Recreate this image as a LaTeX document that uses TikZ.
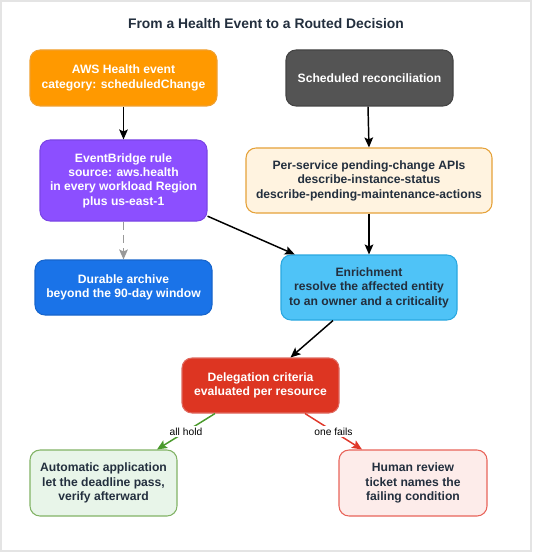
\documentclass[tikz,border=0pt]{standalone}
\usepackage{fontspec}
\setmainfont{Liberation Sans}
\usetikzlibrary{arrows.meta,calc}
\definecolor{ink}{HTML}{232F3E}
\definecolor{cOrange}{HTML}{FF9900}
\definecolor{cOrangeB}{HTML}{F0A030}
\definecolor{cGrey}{HTML}{545454}
\definecolor{cGreyB}{HTML}{444444}
\definecolor{cPurple}{HTML}{8C4FFF}
\definecolor{cPurpleB}{HTML}{7B45E6}
\definecolor{cApi}{HTML}{FFF3E0}
\definecolor{cApiB}{HTML}{E5A23A}
\definecolor{cBlue}{HTML}{1A73E8}
\definecolor{cBlueB}{HTML}{1765CC}
\definecolor{cLBlue}{HTML}{4FC3F7}
\definecolor{cLBlueB}{HTML}{2AA8E0}
\definecolor{cRed}{HTML}{DD3522}
\definecolor{cRedB}{HTML}{E06A60}
\definecolor{cGreenF}{HTML}{E8F5E9}
\definecolor{cGreenB}{HTML}{82B366}
\definecolor{cGreenA}{HTML}{4A9A2C}
\definecolor{cPinkF}{HTML}{FDECEA}
\definecolor{cPinkB}{HTML}{E8645A}
\definecolor{cRedA}{HTML}{E0382A}
\definecolor{cFrame}{HTML}{E4E4E4}
\tikzset{
  box/.style={rectangle, rounded corners=7.5pt, line width=0.8pt, align=center,
    font=\fontsize{9.1}{10.8}\selectfont\bfseries, inner sep=0pt},
  whitebox/.style={box, text=white},
  darkbox/.style={box, text=ink},
  flow/.style={line width=1.1pt, draw=black, -{Stealth[length=7.5pt,width=6.5pt,inset=1.5pt]}},
  lbl/.style={font=\fontsize{7.7}{9}\selectfont, fill=white, inner sep=1pt, text=black}
}
\begin{document}
\begin{tikzpicture}[x=0.75pt,y=-0.75pt]
\useasboundingbox (0,0) rectangle (532,552);
\draw[cFrame, line width=1.5pt, fill=white] (1,1) rectangle (531,551);
\node[font=\fontsize{10.4}{12}\selectfont\bfseries, text=ink] (title) at (266,24) {From a Health Event to a Routed Decision};

\node[whitebox, fill=cOrange, draw=cOrangeB, minimum width=187*0.75pt, minimum height=56*0.75pt] (aws) at (123.5,78) {AWS Health event\\category: scheduledChange};
\node[whitebox, fill=cGrey, draw=cGreyB, minimum width=167*0.75pt, minimum height=56*0.75pt] (sched) at (369.5,78) {Scheduled reconciliation};
\node[whitebox, fill=cPurple, draw=cPurpleB, minimum width=167*0.75pt, minimum height=81*0.75pt] (eb) at (123.5,180.5) {EventBridge rule\\source: aws.health\\in every workload Region\\plus us-east-1};
\node[darkbox, fill=cApi, draw=cApiB, minimum width=246*0.75pt, minimum height=65*0.75pt] (api) at (369,180.5) {Per-service pending-change APIs\\describe-instance-status\\describe-pending-maintenance-actions};
\node[whitebox, fill=cBlue, draw=cBlueB, minimum width=177*0.75pt, minimum height=55*0.75pt] (arch) at (123.5,287.5) {Durable archive\\beyond the 90-day window};
\node[darkbox, fill=cLBlue, draw=cLBlueB, minimum width=176*0.75pt, minimum height=65*0.75pt] (enr) at (369,287.5) {Enrichment\\resolve the affected entity\\to an owner and a criticality};
\node[whitebox, fill=cRed, draw=cRedB, minimum width=157*0.75pt, minimum height=55*0.75pt] (del) at (260.5,385.5) {Delegation criteria\\evaluated per resource};
\node[darkbox, fill=cGreenF, draw=cGreenB, minimum width=147*0.75pt, minimum height=66*0.75pt] (auto) at (103.5,483) {Automatic application\\let the deadline pass,\\verify afterward};
\node[darkbox, fill=cPinkF, draw=cPinkB, minimum width=148*0.75pt, minimum height=66*0.75pt] (human) at (413,483) {Human review\\ticket names the\\failing condition};

\draw[flow] (aws) -- (eb);
\draw[flow] ($(sched.south)+(-1.5,0)$) -- (api.north);
\draw[flow, draw=gray!80, dash pattern=on 6pt off 4pt, -{Stealth[length=7.5pt,width=6.5pt,inset=1.5pt,fill=gray!80]}] (eb) -- (arch);
\draw[flow] (eb.-23.6) -- (enr.156.8);
\draw[flow] (api) -- (enr);
\draw[flow] ($(enr.south)+(-36,0)$) -- ($(del.north)+(30,0)$);
\draw[flow, draw=cGreenA] ($(del.south)+(-45.5,0)$) -- node[lbl, pos=0.5] {all hold} ($(auto.north)+(53.5,0)$);
\draw[flow, draw=cRedA] ($(del.south)+(44.5,0)$) -- node[lbl, pos=0.5] {one fails} ($(human.north)+(-51,0)$);
\end{tikzpicture}
\end{document}
